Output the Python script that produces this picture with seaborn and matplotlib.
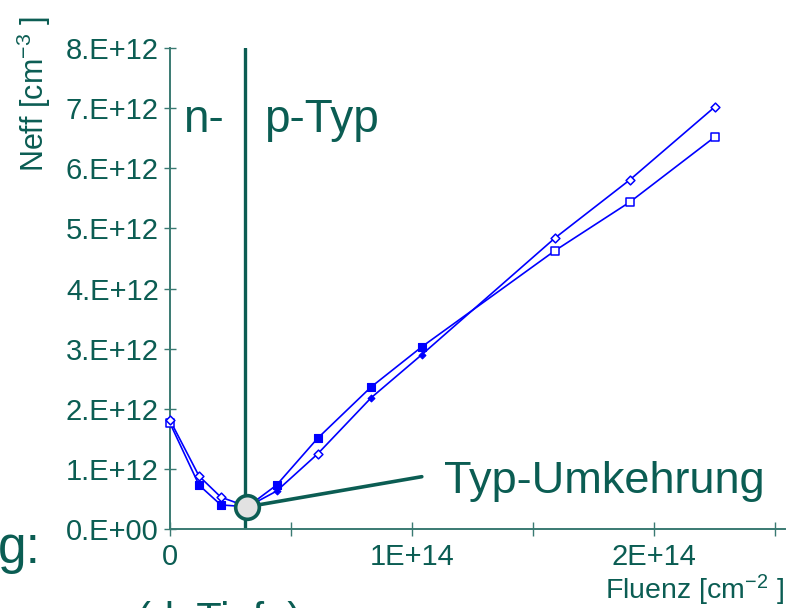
import numpy as np
import pandas as pd
import matplotlib
matplotlib.use('Agg')
import matplotlib.pyplot as plt
import seaborn as sns

fluenz = [0, 0.12e14, 0.21e14, 0.32e14, 0.44e14, 0.61e14, 0.83e14, 1.04e14, 1.59e14, 1.90e14, 2.25e14]
neff_quadrat = [1.76e12, 0.73e12, 0.40e12, 0.37e12, 0.73e12, 1.51e12, 2.36e12, 3.03e12, 4.63e12, 5.44e12, 6.52e12]
neff_raute = [1.81e12, 0.88e12, 0.53e12, 0.37e12, 0.63e12, 1.25e12, 2.18e12, 2.90e12, 4.84e12, 5.81e12, 7.02e12]
# welche Marker gefuellt sind (None = kein Marker, liegt unter dem Kreis)
quadrat_voll = [False, True, True, None, True, True, True, True, False, False, False]
raute_voll = [False, False, False, None, True, False, True, True, False, False, False]

umkehr_fluenz = 0.32e14
umkehr_neff = 0.37e12
trenn_fluenz = 0.31e14

y_ticks = np.arange(0, 9) * 1e12
y_tick_labels = ['0.E+00', '1.E+12', '2.E+12', '3.E+12', '4.E+12', '5.E+12', '6.E+12', '7.E+12', '8.E+12']
x_ticks = [0, 0.5e14, 1e14, 1.5e14, 2e14, 2.5e14]
x_tick_labels = ['0', '', '1E+14', '', '2E+14', '']

sns.set_theme(style='white')
plt.rcParams['font.family'] = ['Liberation Sans', 'DejaVu Sans']
plt.rcParams['mathtext.default'] = 'regular'

GRUEN = '#0b5d53'
ACHSE = '#3a7a72'
BLAU = '#0000ff'

fig = plt.figure(figsize=(7.99, 6.08), dpi=100)
ax = fig.add_axes([170 / 799, 1 - 529 / 608, (785 - 170) / 799, (529 - 48) / 608])

df = pd.DataFrame({'fluenz': fluenz, 'quadrat': neff_quadrat, 'raute': neff_raute,
                   'q_voll': quadrat_voll, 'r_voll': raute_voll})

for spalte in ['quadrat', 'raute']:
    sns.lineplot(data=df, x='fluenz', y=spalte, color=BLAU, lw=1.2, sort=False, ax=ax,
                 clip_on=False, zorder=3)

# Quadrate
sel = df[df['q_voll'] == True]
sns.scatterplot(data=sel, x='fluenz', y='quadrat', marker='s', s=40, color=BLAU,
                edgecolor=BLAU, linewidth=0.8, ax=ax, clip_on=False, zorder=4)
sel = df[df['q_voll'] == False]
sns.scatterplot(data=sel, x='fluenz', y='quadrat', marker='s', s=40, facecolor='white',
                edgecolor=BLAU, linewidth=1.1, ax=ax, clip_on=False, zorder=4)
# Rauten
sel = df[df['r_voll'] == True]
sns.scatterplot(data=sel, x='fluenz', y='raute', marker='D', s=12, color=BLAU,
                edgecolor=BLAU, linewidth=0.8, ax=ax, clip_on=False, zorder=4)
sel = df[df['r_voll'] == False]
sns.scatterplot(data=sel, x='fluenz', y='raute', marker='D', s=20, facecolor='white',
                edgecolor=BLAU, linewidth=1.1, ax=ax, clip_on=False, zorder=4)

# Typ-Umkehrung
ax.axvline(trenn_fluenz, color=GRUEN, lw=2.4, zorder=2)
ax.plot([umkehr_fluenz, 1.04e14], [umkehr_neff, 0.87e12], color=GRUEN, lw=2.6, zorder=2)
ax.scatter([umkehr_fluenz], [umkehr_neff], s=290, facecolor='#e2e2e2', edgecolor=GRUEN,
           linewidth=2.6, zorder=5, clip_on=False)
ax.text(1.13e14, 0.6e12, 'Typ-Umkehrung', color=GRUEN, fontsize=32.5, va='baseline')
ax.text(0.054e14, 6.6e12, 'n-', color=GRUEN, fontsize=33, va='baseline')
ax.text(0.39e14, 6.6e12, 'p-Typ', color=GRUEN, fontsize=33, va='baseline')

ax.set_xlim(0, 2.54e14)
ax.set_ylim(0, 8e12)
ax.set_xticks(x_ticks)
ax.set_xticklabels(x_tick_labels)
ax.set_yticks(y_ticks)
ax.set_yticklabels(y_tick_labels)
ax.set_xlabel('')
ax.set_ylabel('')

for s in ['top', 'right']:
    ax.spines[s].set_visible(False)
for s in ['left', 'bottom']:
    ax.spines[s].set_color(ACHSE)
    ax.spines[s].set_linewidth(1.4)

ax.tick_params(axis='y', direction='inout', length=8, width=1, color=ACHSE,
               labelcolor=GRUEN, labelsize=21, pad=4, left=True)
ax.tick_params(axis='x', direction='inout', length=10, width=1, color=ACHSE,
               labelcolor=GRUEN, labelsize=21, pad=5, bottom=True)

fig.text(784 / 799, 1 - 599 / 608, 'Fluenz [cm$^{-2}$ ]', color=GRUEN, fontsize=20.5,
         ha='right', va='baseline')
fig.text(34 / 799, 1 - 94 / 608, 'Neff [cm$^{-3}$ ]', color=GRUEN, fontsize=22,
         rotation=90, ha='center', va='center')

# Reste der Folie am Rand
fig.text(-0.003, 1 - 563 / 608, 'g:', color=GRUEN, fontsize=37, va='baseline')
fig.text(137 / 799, 1 - 632 / 608, '(d. Tiefe)', color=GRUEN, fontsize=30, va='baseline')

fig.savefig('out.png', dpi=100)
